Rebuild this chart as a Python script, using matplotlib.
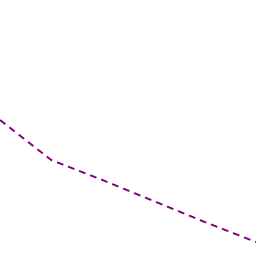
import matplotlib
matplotlib.use("Agg")
from matplotlib import pyplot as plt

# series
steps = [0, 1, 2, 3, 4, 5]
values = [136, 96, 76, 55, 34, 14]

fig = plt.figure(figsize=(2.56, 2.56), dpi=100)
ax = fig.add_axes([0, 0, 1, 1])
ax.plot(steps, values, color="#800080", linewidth=1.4, dashes=(3.5, 2.6))
ax.set_xlim(0, 5)
ax.set_ylim(0, 256)
ax.axis("off")

fig.savefig("out.png", dpi=100)
